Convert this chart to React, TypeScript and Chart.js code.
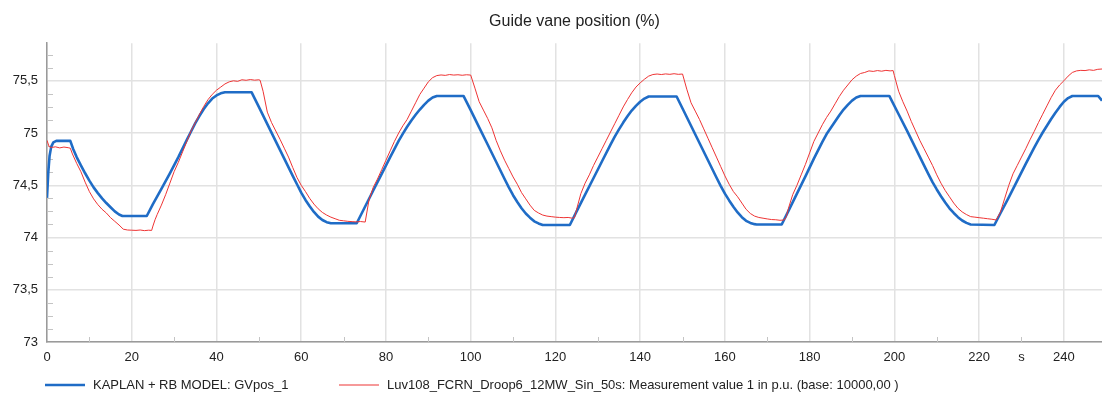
import { useEffect, useRef } from 'react';
import { Chart, registerables } from 'chart.js';

Chart.register(...registerables);

const TITLE = 'Guide vane position (%)';
const SERIES_NAMES = [
  'KAPLAN + RB MODEL: GVpos_1',
  'Luv108_FCRN_Droop6_12MW_Sin_50s: Measurement value 1 in p.u. (base: 10000,00 )',
];
const X_UNIT = 's';
const X_MAX = 249;
const Y_MIN = 73;
const Y_MAX = 75.86;

// Model (blue) – time (s) and guide vane position (%)
const blueTime = [
  0, 0.3, 0.6, 1, 1.5, 2.2, 5.5, 6.2, 7, 8, 9, 10, 11, 12, 13, 14, 15, 16, 17, 17.8, 23.55, 25, 27, 29, 31, 33, 34, 35, 36, 37, 38, 39, 40, 41, 42,
  48.3, 50, 52, 54, 56, 58, 59, 60, 61, 62, 63, 64, 65, 66, 67, 73.1,
  75, 77, 79, 81, 83, 84, 85, 86, 87, 88, 89, 90, 91, 92, 98.3,
  100, 102, 104, 106, 108, 109, 110, 111, 112, 113, 114, 115, 116, 117, 123.4,
  125, 127, 129, 131, 133, 134, 135, 136, 137, 138, 139, 140, 141, 142, 148.6,
  150, 152, 154, 156, 158, 159, 160, 161, 162, 163, 164, 165, 166, 167, 167.5, 173.4,
  175, 177, 179, 181, 183, 184, 185, 186, 187, 188, 189, 190, 191, 192, 198.8,
  201, 203, 205, 207, 208, 209, 210, 211, 212, 213, 214, 215, 216, 217, 218, 223.6,
  225, 227, 229, 231, 233, 234, 235, 236, 237, 238, 239, 240, 241, 242, 248.1, 249,
];
const blueValue = [
  74.38, 74.62, 74.78, 74.87, 74.91, 74.925, 74.925, 74.845, 74.77, 74.69, 74.615, 74.545, 74.48, 74.425, 74.375, 74.33, 74.29, 74.25, 74.22, 74.206, 74.206, 74.32, 74.465, 74.615, 74.77, 74.935, 75.015, 75.095, 75.165, 75.23, 75.285, 75.33, 75.36, 75.38, 75.39,
  75.39, 75.25, 75.085, 74.92, 74.755, 74.59, 74.51, 74.43, 74.36, 74.3, 74.245, 74.2, 74.168, 74.147, 74.137, 74.137,
  74.29, 74.45, 74.61, 74.77, 74.925, 74.995, 75.06, 75.12, 75.175, 75.225, 75.27, 75.31, 75.34, 75.355, 75.355,
  75.22, 75.055, 74.89, 74.725, 74.56, 74.48, 74.405, 74.34, 74.28, 74.23, 74.19, 74.155, 74.135, 74.12, 74.12,
  74.25, 74.41, 74.57, 74.73, 74.89, 74.965, 75.035, 75.1, 75.16, 75.215, 75.26, 75.3, 75.33, 75.35, 75.35,
  75.235, 75.07, 74.905, 74.74, 74.575, 74.495, 74.42, 74.355, 74.295, 74.24, 74.195, 74.16, 74.14, 74.128, 74.125, 74.125,
  74.255, 74.42, 74.585, 74.755, 74.915, 74.99, 75.05, 75.11, 75.17, 75.225, 75.27, 75.31, 75.34, 75.355, 75.355,
  75.18, 75.02, 74.855, 74.69, 74.61, 74.53, 74.46, 74.395, 74.335, 74.28, 74.235, 74.195, 74.163, 74.14, 74.125, 74.12,
  74.23, 74.385, 74.545, 74.705, 74.86, 74.935, 75.005, 75.07, 75.135, 75.195, 75.25, 75.3, 75.335, 75.355, 75.355, 75.31,
];

// Measurement (red) – time (s) and guide vane position (%)
const redTime = [
  0, 0.5, 1, 2, 3, 4, 5, 5.5, 6, 7, 8, 9, 10, 11, 12, 13, 14, 15, 16, 17, 18, 19, 20, 21, 22, 23, 24, 24.7,
  25, 25.5, 26, 27, 28, 29, 30, 31, 32, 33, 34, 35, 36, 37, 38, 39, 40, 41, 42, 43, 44, 45, 46, 47, 48, 49, 50, 50.3,
  51, 52, 53, 54, 55, 56, 57, 58, 59, 60, 61, 62, 63, 64, 65, 66, 67, 68, 69, 70, 71, 72, 73, 74, 75.1,
  76, 77, 78, 79, 80, 81, 82, 83, 84, 85, 86, 87, 88, 89, 90, 91, 92, 93, 94, 95, 96, 97, 98, 99, 100,
  101, 102, 103, 104, 105, 106, 107, 108, 109, 110, 111, 112, 113, 114, 115, 116, 117, 118, 119, 120, 121, 122, 123, 124, 124.5,
  125, 126, 127, 128, 129, 130, 131, 132, 133, 134, 135, 136, 137, 138, 139, 140, 141, 142, 143, 144, 145, 146, 147, 148, 149, 150,
  151, 152, 153, 154, 155, 156, 157, 158, 159, 160, 161, 162, 163, 164, 165, 166, 167, 168, 169, 170, 171, 172, 173, 174,
  174.5, 175, 176, 177, 178, 179, 180, 181, 182, 183, 184, 185, 186, 187, 188, 189, 190, 191, 192, 193, 194, 195, 196, 197, 198, 199, 199.7,
  200, 201, 202, 203, 204, 205, 206, 207, 208, 209, 210, 211, 212, 213, 214, 215, 216, 217, 218, 219, 220, 221, 222, 223, 224,
  225, 226, 227, 228, 229, 230, 231, 232, 233, 234, 235, 236, 237, 238, 239, 240, 241, 242, 243, 244, 245, 246, 247, 248, 249,
];
const redValue = [
  74.93, 74.87, 74.862, 74.868, 74.858, 74.866, 74.86, 74.855, 74.8, 74.71, 74.63, 74.53, 74.44, 74.37, 74.315, 74.27, 74.235, 74.19, 74.155, 74.12, 74.08, 74.072, 74.07, 74.068, 74.072, 74.066, 74.07, 74.068,
  74.11, 74.17, 74.22, 74.31, 74.41, 74.52, 74.63, 74.72, 74.82, 74.92, 75.02, 75.1, 75.18, 75.255, 75.32, 75.37, 75.41, 75.44, 75.47, 75.49, 75.5, 75.495, 75.51, 75.505, 75.512, 75.506, 75.51, 75.505,
  75.4, 75.2, 75.1, 75.02, 74.94, 74.855, 74.77, 74.67, 74.575, 74.5, 74.44, 74.375, 74.32, 74.275, 74.24, 74.215, 74.195, 74.18, 74.165, 74.16, 74.155, 74.152, 74.15, 74.153, 74.148,
  74.36, 74.48, 74.56, 74.65, 74.74, 74.83, 74.92, 75.0, 75.07, 75.13, 75.21, 75.29, 75.37, 75.43, 75.49, 75.53, 75.55, 75.556, 75.552, 75.56, 75.555, 75.558, 75.553, 75.558, 75.555,
  75.43, 75.3, 75.22, 75.14, 75.05, 74.93, 74.83, 74.74, 74.66, 74.58, 74.51, 74.43, 74.37, 74.31, 74.26, 74.235, 74.215, 74.205, 74.2, 74.195, 74.192, 74.19, 74.192, 74.185, 74.19,
  74.27, 74.42, 74.52, 74.6, 74.69, 74.77, 74.85, 74.93, 75.01, 75.09, 75.17, 75.25, 75.32, 75.385, 75.44, 75.48, 75.515, 75.545, 75.56, 75.565, 75.56, 75.566, 75.562, 75.568, 75.562, 75.565,
  75.42, 75.29, 75.21, 75.13, 75.04, 74.95, 74.86, 74.77, 74.68, 74.59, 74.51, 74.44, 74.39, 74.33, 74.27, 74.23, 74.205, 74.192, 74.185, 74.178, 74.172, 74.17, 74.165, 74.168,
  74.2, 74.28, 74.41, 74.5, 74.6, 74.7, 74.81, 74.92, 75.0, 75.08, 75.15, 75.21, 75.28, 75.35, 75.41, 75.46, 75.51, 75.545, 75.57, 75.58, 75.595, 75.59, 75.598, 75.592, 75.6, 75.595, 75.598,
  75.55, 75.4, 75.3, 75.21, 75.11, 75.02, 74.93, 74.85, 74.77, 74.69, 74.6, 74.52, 74.45, 74.39, 74.33, 74.28, 74.245, 74.22, 74.2, 74.195, 74.19, 74.185, 74.18, 74.175, 74.168,
  74.24, 74.37, 74.5, 74.61, 74.69, 74.77, 74.85, 74.935, 75.015, 75.1, 75.18, 75.26, 75.34, 75.41, 75.46, 75.5, 75.545, 75.58, 75.595, 75.6, 75.598, 75.605, 75.6, 75.61, 75.613,
];

const FONT = '"Liberation Sans", Arial, Helvetica, sans-serif';
const BLUE = '#1f6cc6';
const RED = '#ee3434';

const minorTicksPlugin = {
  id: 'minorTicks',
  beforeDatasetsDraw(chart: any) {
    const { ctx, chartArea, scales } = chart;
    ctx.save();
    ctx.strokeStyle = '#c4c4c4';
    ctx.lineWidth = 1;
    scales.y.ticks.forEach((t: any) => {
      if (t.value % 0.5 !== 0 && t.value < scales.y.max) {
        const py = Math.round(scales.y.getPixelForValue(t.value)) + 0.5;
        ctx.beginPath();
        ctx.moveTo(chartArea.left, py);
        ctx.lineTo(chartArea.left + 6, py);
        ctx.stroke();
      }
    });
    scales.x.ticks.forEach((t: any) => {
      if (t.value % 20 !== 0 && t.value < scales.x.max) {
        const px = Math.round(scales.x.getPixelForValue(t.value)) + 0.5;
        ctx.beginPath();
        ctx.moveTo(px, chartArea.bottom);
        ctx.lineTo(px, chartArea.bottom - 5);
        ctx.stroke();
      }
    });
    ctx.restore();
  },
};

const bottomLegendPlugin = {
  id: 'bottomLegend',
  afterDraw(chart: any) {
    const { ctx } = chart;
    const y = 385;
    const starts = [45, 339];
    const widths = [2.5, 1.2];
    ctx.save();
    ctx.font = `13px ${FONT}`;
    ctx.textBaseline = 'middle';
    ctx.textAlign = 'left';
    chart.data.datasets.forEach((ds: any, i: number) => {
      const x0 = starts[i];
      ctx.strokeStyle = ds.borderColor;
      ctx.lineWidth = widths[i];
      ctx.beginPath();
      ctx.moveTo(x0, y);
      ctx.lineTo(x0 + 40, y);
      ctx.stroke();
      ctx.fillStyle = '#222';
      ctx.fillText(ds.label, x0 + 48, y);
    });
    ctx.restore();
  },
};

export default function App() {
  const canvasRef = useRef<HTMLCanvasElement | null>(null);

  useEffect(() => {
    if (!canvasRef.current) return;
    const chart = new Chart(canvasRef.current, {
      type: 'line',
      data: {
        datasets: [
          {
            label: SERIES_NAMES[0],
            data: blueTime.map((t, i) => ({ x: t, y: blueValue[i] })),
            borderColor: BLUE,
            backgroundColor: BLUE,
            borderWidth: 2.6,
            pointRadius: 0,
            tension: 0,
            borderJoinStyle: 'round',
            order: 2,
          },
          {
            label: SERIES_NAMES[1],
            data: redTime.map((t, i) => ({ x: t, y: redValue[i] })),
            borderColor: RED,
            backgroundColor: RED,
            borderWidth: 1,
            pointRadius: 0,
            tension: 0,
            order: 1,
          },
        ],
      },
      options: {
        animation: false,
        responsive: true,
        maintainAspectRatio: false,
        layout: { padding: { left: 0, right: 0, top: 0, bottom: 30 } },
        plugins: {
          legend: { display: false },
          tooltip: { enabled: false },
          title: {
            display: true,
            text: TITLE,
            fullSize: false,
            color: '#222',
            font: { family: FONT, size: 16, weight: 'normal' },
            padding: { top: 12, bottom: 12 },
          },
        },
        scales: {
          x: {
            type: 'linear',
            min: 0,
            max: X_MAX,
            afterFit: (scale: any) => {
              scale.height = 24;
            },
            border: { display: true, color: '#9a9a9a', width: 1.5 },
            grid: {
              drawTicks: false,
              lineWidth: 1.5,
              color: (c: any) => (c.tick && c.tick.value % 20 === 0 ? '#e2e2e2' : 'rgba(0,0,0,0)'),
            },
            ticks: {
              stepSize: 10,
              includeBounds: false,
              autoSkip: false,
              maxRotation: 0,
              padding: 8,
              color: '#222',
              font: { family: FONT, size: 13 },
              callback: (v: any) => {
                const n = Number(v);
                if (n === 230) return X_UNIT;
                return n % 20 === 0 ? String(n) : '';
              },
            },
          },
          y: {
            type: 'linear',
            min: Y_MIN,
            max: Y_MAX,
            afterFit: (scale: any) => {
              scale.width = 47;
            },
            border: { display: true, color: '#9a9a9a', width: 1.5 },
            grid: {
              drawTicks: false,
              lineWidth: 1.5,
              color: (c: any) => (c.tick && c.tick.value % 0.5 === 0 ? '#e2e2e2' : 'rgba(0,0,0,0)'),
            },
            ticks: {
              stepSize: 0.125,
              includeBounds: false,
              autoSkip: false,
              padding: 9,
              color: '#222',
              font: { family: FONT, size: 13 },
              callback: (v: any) => {
                const n = Number(v);
                return n % 0.5 === 0 ? String(n).replace('.', ',') : '';
              },
            },
          },
        },
      },
      plugins: [minorTicksPlugin, bottomLegendPlugin],
    } as any);
    return () => chart.destroy();
  }, []);

  return (
    <div style={{ position: 'absolute', left: 0, top: 0, width: 1102, height: 396, background: '#fff' }}>
      <canvas ref={canvasRef} />
    </div>
  );
}
